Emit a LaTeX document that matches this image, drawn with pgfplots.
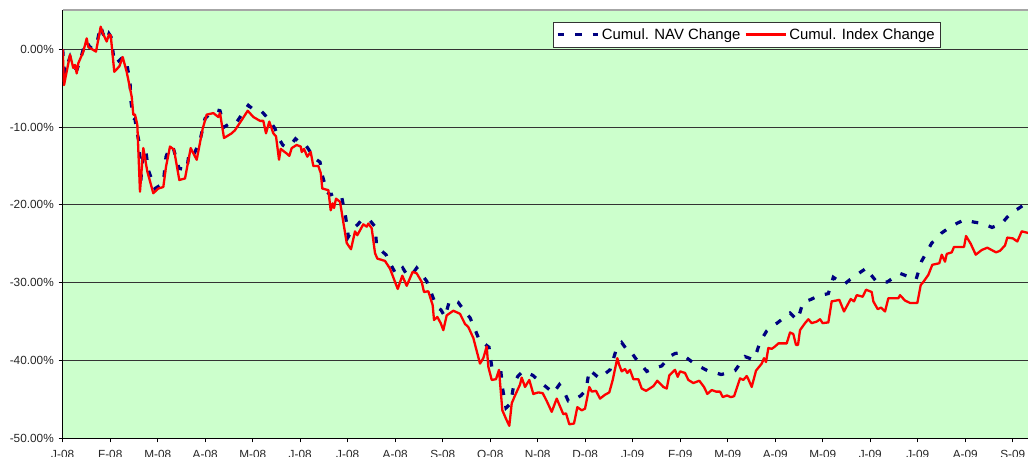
\documentclass[border=0pt]{standalone}
\usepackage{fontspec}
\setmainfont{Liberation Sans}
\usepackage{pgfplots}
\pgfplotsset{compat=1.18}
\definecolor{bgg}{HTML}{CCFFCC}
\definecolor{navblue}{HTML}{000080}
\begin{document}
\begin{tikzpicture}
\begin{scope}
\clip (-62.7pt,-18.7pt) rectangle (965.3pt,438.3pt);
\begin{axis}[
 scale only axis, width=971.4pt, height=428.3pt,
 anchor=south west, at={(0pt,0pt)},
 xmin=0, xmax=20.45, ymin=-50, ymax=5.05,
 axis x line*=bottom, axis y line*=left,
 axis line style={black, line width=1.2pt, -},
 axis background/.style={fill=bgg},
 xtick={0,...,20},
 xticklabels={J-08,F-08,M-08,A-08,M-08,J-08,J-08,A-08,S-08,O-08,N-08,D-08,J-09,F-09,M-09,A-09,M-09,J-09,J-09,A-09,S-09},
 ytick={-50,-40,-30,-20,-10,0},
 yticklabels={-50.00\%,-40.00\%,-30.00\%,-20.00\%,-10.00\%,0.00\%},
 tick align=outside, major tick length=4pt,
 tick style={black, line width=1pt},
 ymajorgrids, grid style={black!80, line width=1pt},
 tick label style={font=\fontsize{11.8}{13}\selectfont, text=black!85},
 yticklabel style={xshift=-1.4pt},
 xticklabel style={yshift=-4.5pt},
 /pgf/number format/assume math mode=true,
 legend columns=2,
 legend image code/.code={\draw[#1] (0pt,0pt) -- (40pt,0pt);},
 legend style={at={(0.5044,0.9727)}, anchor=north west, draw=black!80, line width=0.8pt, fill=white,
   font=\fontsize{14.9}{16}\selectfont, inner xsep=3pt, inner ysep=3.8pt,
   nodes={inner sep=2.5pt},
   /tikz/every even column/.append style={column sep=1.6pt}},
]
\draw[black!35, line width=1.5pt] (rel axis cs:0,1) -- (rel axis cs:1,1);
\addplot[navblue, line width=3.2pt, dash pattern=on 6.5pt off 11pt] coordinates {
(0,0) (0.038,-3.0) (0.154,-1.0) (0.223,-2.3) (0.301,-2.6) (0.364,-1.5) (0.434,0) (0.512,1.0) (0.575,0.2) (0.701,0.3) (0.8,3.0) (0.848,2.0) (0.933,1.2) (0.975,2.0) (1.017,1.6) (1.091,-1.8) (1.185,-1.5) (1.269,-1.0) (1.354,-2.0) (1.417,-4.2) (1.438,-6.7) (1.48,-8.8) (1.522,-9.0) (1.56,-10.5) (1.613,-12.1) (1.638,-17.3) (1.701,-13.0) (1.754,-13.2) (1.802,-15.5) (1.943,-17.9) (2.048,-17.5) (2.118,-17.2) (2.175,-13.8) (2.259,-12.5) (2.328,-12.7) (2.448,-15.3) (2.611,-15.5) (2.665,-13.2) (2.764,-13.5) (2.891,-11.7) (2.996,-8.9) (3.101,-8.3) (3.242,-7.8) (3.312,-7.9) (3.396,-10.0) (3.558,-9.4) (3.648,-9.5) (3.768,-8.4) (3.907,-7.2) (4.027,-7.8) (4.189,-8.0) (4.328,-8.9) (4.469,-10.2) (4.554,-11.5) (4.632,-12.3) (4.68,-12.5) (4.785,-12.4) (4.901,-11.5) (4.996,-12.0) (5.101,-12.2) (5.171,-12.8) (5.269,-13.8) (5.347,-14.2) (5.417,-14.5) (5.474,-16.4) (5.571,-18.4) (5.642,-18.7) (5.733,-18.5) (5.874,-19.0) (5.958,-21.6) (6.013,-24.1) (6.118,-23.0) (6.217,-22.5) (6.295,-21.9) (6.385,-22.0) (6.469,-22.0) (6.575,-22.8) (6.611,-25.4) (6.806,-26.4) (6.891,-27.5) (7.017,-28.9) (7.158,-28.1) (7.248,-29.0) (7.347,-29.0) (7.453,-28.1) (7.564,-29.0) (7.663,-29.8) (7.789,-31.8) (7.874,-33.1) (7.964,-33.5) (8.048,-34.4) (8.139,-32.4) (8.211,-32.2) (8.322,-32.5) (8.491,-33.9) (8.575,-34.5) (8.68,-36.0) (8.785,-37.6) (8.869,-37.8) (8.975,-38.3) (9.032,-40.8) (9.122,-41.0) (9.221,-41.2) (9.263,-43.7) (9.333,-46.1) (9.432,-45.5) (9.501,-42.9) (9.585,-42.0) (9.684,-41.4) (9.775,-41.6) (9.895,-41.9) (10.006,-42.5) (10.118,-43.1) (10.217,-43.6) (10.328,-44.2) (10.455,-43.1) (10.554,-44.0) (10.644,-45.2) (10.722,-45.2) (10.806,-44.9) (10.912,-44.5) (11.017,-43.8) (11.086,-41.2) (11.185,-41.7) (11.297,-42.3) (11.396,-41.8) (11.522,-41.2) (11.648,-38.7) (11.768,-37.7) (11.886,-38.7) (11.943,-38.7) (12.069,-39.8) (12.175,-40.5) (12.295,-41.4) (12.448,-41.0) (12.611,-40.7) (12.68,-40.2) (12.771,-39.5) (12.891,-39.1) (12.996,-39.0) (13.122,-39.6) (13.276,-40.3) (13.417,-40.8) (13.571,-41.3) (13.712,-41.5) (13.859,-41.8) (14.006,-41.6) (14.154,-41.3) (14.259,-40.4) (14.364,-39.5) (14.539,-39.9) (14.617,-38.8) (14.68,-37.6) (14.821,-36.2) (14.912,-35.7) (15.038,-35.2) (15.185,-34.5) (15.312,-33.9) (15.465,-34.8) (15.522,-33.8) (15.585,-32.5) (15.732,-32.2) (15.907,-31.7) (16.118,-31.4) (16.223,-29.3) (16.322,-29.7) (16.455,-30.2) (16.575,-29.6) (16.691,-29.1) (16.806,-28.6) (16.926,-28.1) (17.017,-29.0) (17.137,-29.9) (17.248,-29.9) (17.36,-29.9) (17.48,-29.4) (17.627,-28.8) (17.796,-29.2) (17.964,-29.6) (18.084,-27.2) (18.196,-26.0) (18.295,-24.9) (18.406,-24.3) (18.505,-23.6) (18.695,-22.8) (18.848,-22.3) (18.996,-21.9) (19.171,-22.2) (19.381,-22.4) (19.564,-22.9) (19.768,-22.4) (19.88,-21.6) (20.0,-20.9) (20.112,-20.5) (20.259,-19.9) (20.322,-19.9)
};
\addlegendentry{Cumul. NAV Change}
\addplot[red, line width=2.3pt, line join=round] coordinates {
(0,0) (0.028,-4.6) (0.154,-0.7) (0.223,-2.4) (0.259,-2.0) (0.295,-3.1) (0.328,-1.8) (0.434,-0.3) (0.505,1.4) (0.539,0.3) (0.701,-0.3) (0.8,2.9) (0.842,2.1) (0.926,1.0) (0.975,1.9) (1.011,1.8) (1.086,-2.9) (1.192,-2.2) (1.263,-1.0) (1.347,-2.9) (1.453,-6.1) (1.486,-8.4) (1.522,-8.4) (1.571,-9.7) (1.627,-18.3) (1.697,-12.7) (1.781,-15.7) (1.907,-18.5) (2.013,-17.9) (2.118,-17.7) (2.175,-15.1) (2.259,-12.5) (2.343,-12.9) (2.455,-16.8) (2.575,-16.6) (2.695,-12.7) (2.821,-14.2) (2.947,-10.2) (3.032,-8.4) (3.171,-8.2) (3.276,-8.7) (3.312,-8.2) (3.396,-11.4) (3.558,-10.8) (3.627,-10.4) (3.768,-9.1) (3.895,-7.9) (4.013,-8.7) (4.154,-9.2) (4.223,-9.2) (4.28,-10.8) (4.349,-9.3) (4.434,-10.8) (4.491,-11.2) (4.554,-14.2) (4.589,-12.8) (4.716,-13.4) (4.771,-13.7) (4.821,-12.7) (4.926,-12.3) (5.011,-12.5) (5.032,-13.2) (5.08,-12.8) (5.149,-13.8) (5.221,-13.2) (5.276,-15.0) (5.381,-15.0) (5.432,-15.9) (5.465,-17.9) (5.592,-18.1) (5.642,-20.7) (5.684,-19.8) (5.712,-20.4) (5.754,-19.2) (5.838,-19.6) (5.907,-22.2) (5.979,-24.9) (6.069,-25.7) (6.154,-23.4) (6.202,-23.9) (6.328,-22.5) (6.4,-22.8) (6.434,-22.4) (6.505,-23.0) (6.575,-26.2) (6.623,-26.9) (6.785,-27.2) (6.891,-28.2) (6.996,-29.9) (7.053,-30.8) (7.149,-29.1) (7.242,-30.4) (7.368,-28.6) (7.453,-28.8) (7.558,-29.9) (7.606,-31.2) (7.697,-31.1) (7.789,-32.9) (7.817,-34.8) (7.886,-34.4) (7.958,-35.2) (8.013,-36.1) (8.084,-34.2) (8.154,-33.9) (8.223,-33.6) (8.364,-34.0) (8.469,-35.3) (8.539,-35.7) (8.644,-37.1) (8.785,-40.4) (8.855,-39.7) (8.926,-38.2) (8.96,-40.8) (9.032,-42.5) (9.122,-42.4) (9.185,-41.2) (9.255,-46.4) (9.333,-47.5) (9.402,-48.4) (9.453,-45.5) (9.522,-44.5) (9.627,-43.1) (9.663,-42.2) (9.733,-43.4) (9.823,-42.5) (9.907,-44.3) (10.013,-44.1) (10.105,-44.2) (10.189,-45.2) (10.295,-46.6) (10.4,-44.9) (10.469,-45.9) (10.539,-46.9) (10.596,-46.8) (10.665,-48.2) (10.764,-48.1) (10.834,-46.0) (10.926,-46.4) (10.996,-46.2) (11.086,-43.4) (11.137,-44.0) (11.227,-43.9) (11.312,-44.9) (11.417,-44.4) (11.507,-44.1) (11.579,-42.5) (11.676,-39.7) (11.712,-40.5) (11.768,-41.4) (11.838,-41.1) (11.886,-41.6) (11.943,-41.2) (12.013,-42.4) (12.118,-42.4) (12.189,-43.6) (12.28,-43.9) (12.434,-43.3) (12.518,-42.6) (12.644,-43.4) (12.716,-43.6) (12.771,-41.9) (12.891,-41.2) (12.947,-42.1) (12.996,-41.4) (13.101,-41.6) (13.171,-42.5) (13.276,-42.9) (13.402,-42.6) (13.501,-43.4) (13.571,-44.3) (13.663,-43.8) (13.754,-44.0) (13.838,-44.0) (13.895,-44.7) (13.985,-44.5) (14.063,-44.7) (14.133,-44.6) (14.259,-42.3) (14.328,-42.5) (14.4,-42.0) (14.434,-42.4) (14.505,-43.4) (14.596,-41.3) (14.716,-40.4) (14.764,-39.7) (14.806,-40.2) (14.855,-38.4) (14.926,-38.5) (14.996,-38.2) (15.067,-37.8) (15.242,-37.8) (15.312,-36.4) (15.381,-36.6) (15.438,-38.0) (15.48,-38.0) (15.522,-36.1) (15.627,-35.2) (15.697,-34.7) (15.768,-35.2) (15.874,-35.0) (15.943,-34.7) (16.0,-35.2) (16.118,-35.1) (16.189,-32.4) (16.28,-32.3) (16.349,-32.2) (16.448,-33.7) (16.589,-32.1) (16.659,-32.4) (16.716,-31.6) (16.842,-31.8) (16.912,-30.9) (17.032,-31.2) (17.065,-32.4) (17.158,-33.4) (17.227,-33.2) (17.312,-33.7) (17.381,-32.0) (17.592,-32.0) (17.627,-31.6) (17.733,-32.3) (17.838,-32.6) (17.992,-32.6) (18.063,-30.3) (18.118,-29.9) (18.223,-29.0) (18.307,-27.7) (18.455,-27.5) (18.505,-26.4) (18.574,-27.3) (18.611,-26.3) (18.716,-26.1) (18.764,-25.4) (18.975,-25.4) (19.017,-24.0) (19.116,-25.0) (19.221,-26.4) (19.347,-25.8) (19.465,-25.5) (19.648,-26.1) (19.733,-25.9) (19.838,-25.2) (19.886,-24.2) (20.0,-24.3) (20.097,-24.7) (20.189,-23.4) (20.322,-23.6)
};
\addlegendentry{Cumul. Index Change}
\end{axis}
\end{scope}
\pgfresetboundingbox
\path[use as bounding box] (-62.7pt,-18.7pt) rectangle (965.3pt,438.3pt);
\end{tikzpicture}
\end{document}
